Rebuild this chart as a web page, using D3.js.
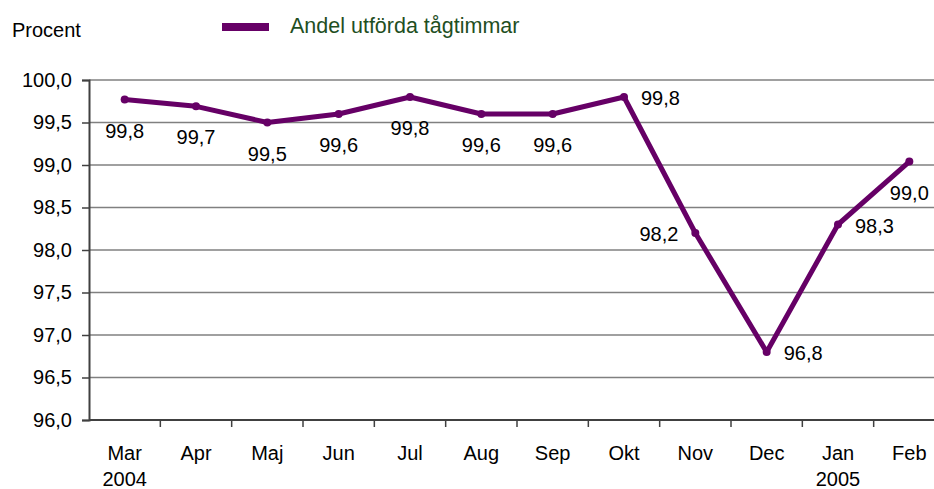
<!DOCTYPE html>
<html>
<head>
<meta charset="utf-8">
<script src="https://cdn.jsdelivr.net/npm/d3@7"></script>
<style>
  body { margin: 0; background: #fff; }
  svg { font-family: "Liberation Sans", Arial, sans-serif; }
</style>
</head>
<body>
<svg width="934" height="489"></svg>
<script>
var months = ["Mar", "Apr", "Maj", "Jun", "Jul", "Aug", "Sep", "Okt", "Nov", "Dec", "Jan", "Feb"];
var years = ["2004", "", "", "", "", "", "", "", "", "", "2005", ""];
var values = [99.77, 99.69, 99.5, 99.6, 99.8, 99.6, 99.6, 99.8, 98.2, 96.8, 98.3, 99.04];
// where each value label sits relative to its point
var labelPos = ["below", "below", "below", "below", "below", "below", "below", "right", "left", "right", "right", "below"];
var yTicks = [96, 96.5, 97, 97.5, 98, 98.5, 99, 99.5, 100];

var svg = d3.select("svg"),
    purple = "#660066";

var fmt = function(v) { return d3.format(".1f")(v).replace(".", ","); };

var x = d3.scaleBand().domain(months).range([89, 945]);
var y = d3.scaleLinear().domain([96, 100]).range([420, 80]);

// gridlines
svg.append("g")
  .selectAll("line")
  .data(yTicks.slice(1))
  .enter().append("line")
    .attr("x1", 89).attr("x2", 934)
    .attr("y1", function(d) { return y(d); })
    .attr("y2", function(d) { return y(d); })
    .attr("stroke", "#808080")
    .attr("stroke-width", 1.5);

// y axis
var yAxis = svg.append("g")
    .attr("transform", "translate(89,0)")
    .call(d3.axisLeft(y).tickValues(yTicks).tickFormat(fmt).tickSize(7).tickPadding(10));
yAxis.select(".domain").attr("stroke", "#404040").attr("stroke-width", 2);
yAxis.selectAll(".tick line").attr("stroke", "#404040").attr("stroke-width", 1.5);
yAxis.selectAll("text").attr("font-size", 20).attr("fill", "#000")
    .attr("font-family", "Liberation Sans, Arial, sans-serif");

// x axis baseline and ticks between categories
svg.append("line")
    .attr("x1", 89).attr("x2", 934)
    .attr("y1", 420).attr("y2", 420)
    .attr("stroke", "#404040").attr("stroke-width", 2);
svg.append("g")
  .selectAll("line")
  .data(months.slice(1))
  .enter().append("line")
    .attr("x1", function(d) { return x(d); })
    .attr("x2", function(d) { return x(d); })
    .attr("y1", 420).attr("y2", 427)
    .attr("stroke", "#404040").attr("stroke-width", 1.5);

var xl = svg.append("g").attr("font-size", 20).attr("text-anchor", "middle");
xl.selectAll("text.m")
  .data(months)
  .enter().append("text")
    .attr("class", "m")
    .attr("x", function(d) { return x(d) + x.bandwidth() / 2; })
    .attr("y", 460)
    .text(function(d) { return d; });
xl.selectAll("text.yr")
  .data(months)
  .enter().append("text")
    .attr("class", "yr")
    .attr("x", function(d) { return x(d) + x.bandwidth() / 2; })
    .attr("y", 486)
    .text(function(d, i) { return years[i]; });

// line
var cx = function(d, i) { return x(months[i]) + x.bandwidth() / 2; };
var line = d3.line()
    .x(cx)
    .y(function(d) { return y(d); });

svg.append("path")
    .datum(values)
    .attr("d", line)
    .attr("fill", "none")
    .attr("stroke", purple)
    .attr("stroke-width", 5)
    .attr("stroke-linejoin", "round");

svg.append("g")
  .selectAll("circle")
  .data(values)
  .enter().append("circle")
    .attr("cx", cx)
    .attr("cy", function(d) { return y(d); })
    .attr("r", 4)
    .attr("fill", purple);

// value labels
svg.append("g")
    .attr("font-size", 20)
  .selectAll("text")
  .data(values)
  .enter().append("text")
    .attr("x", function(d, i) {
      var p = labelPos[i];
      return cx(d, i) + (p == "right" ? 17 : p == "left" ? -17 : 0);
    })
    .attr("y", function(d, i) {
      return y(d) + (labelPos[i] == "below" ? 38 : 8);
    })
    .attr("text-anchor", function(d, i) {
      var p = labelPos[i];
      return p == "right" ? "start" : p == "left" ? "end" : "middle";
    })
    .text(function(d) { return fmt(d); });

// title and legend
svg.append("text")
    .attr("x", 12).attr("y", 37)
    .attr("font-size", 20)
    .text("Procent");

svg.append("line")
    .attr("x1", 222).attr("x2", 269)
    .attr("y1", 27).attr("y2", 27)
    .attr("stroke", purple).attr("stroke-width", 8);
svg.append("text")
    .attr("x", 290).attr("y", 33)
    .attr("font-size", 21.5)
    .attr("fill", "#1f4f1f")
    .text("Andel utförda tågtimmar");
</script>
</body>
</html>
